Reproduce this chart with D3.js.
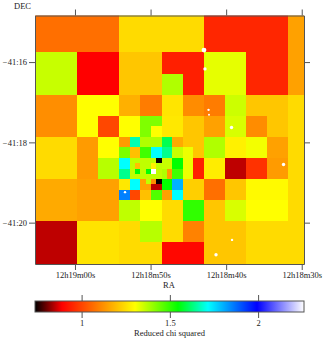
<!DOCTYPE html>
<html>
<head>
<meta charset="utf-8">
<script src="https://cdn.jsdelivr.net/npm/d3@7"></script>
<style>
body { margin: 0; background: #fff; }
text { font-family: "Liberation Serif", serif; font-size: 8.5px; fill: #222; }
.tick line, .domain { stroke: #555; }
</style>
</head>
<body>
<svg width="324" height="340"></svg>
<script>
// tiles of the adaptive binning, position and size in units of the finest bin
var tileCol = [0,8,16,24,32,40,48,
    0,8,16,24,28,24,28,32,40,48,
    0,8,12,8,12,16,20,16,20,22,20,22,24,28,24,28,32,36,32,36,40,44,40,44,48,
    0,8,12,8,12,16,18,20,22,16,18,20,22,16,16,18,18,19,19,
    20,22,23,22,23,20,21,20,21,22,23,23,22,23,
    24,26,24,26,24,26,26,24,25,24,25,
    28,30,28,30,28,30,28,30,32,36,40,44,32,36,40,44,48,
    0,8,16,18,16,18,20,21,22,23,22,23,20,22,24,26,24,26,28,
    16,20,24,28,32,36,40,44,48,32,36,40,44,
    0,8,16,20,16,20,24,28,24,28,32,40,48];
var tileRow = [0,0,0,0,0,0,0,
    8,8,8,8,8,12,12,8,8,8,
    16,16,16,20,20,16,16,20,20,20,22,22,16,16,20,20,16,16,20,20,16,16,20,20,16,
    24,24,24,28,28,24,24,24,24,26,26,26,26,28,30,28,30,29,30,
    28,28,28,29,29,30,30,31,31,30,30,31,31,31,
    24,24,26,26,28,28,30,30,30,31,31,
    24,24,26,26,28,28,30,30,24,24,24,24,28,28,28,28,24,
    32,32,32,32,34,34,32,32,32,32,33,33,34,34,32,32,34,34,32,
    36,36,36,36,32,32,32,32,32,36,36,36,36,
    40,40,40,40,44,44,40,40,44,44,40,40,40];
var tileSize = [8,8,8,8,8,8,8,
    8,8,8,4,4,4,4,8,8,8,
    8,4,4,4,4,4,4,4,2,2,2,2,4,4,4,4,4,4,4,4,4,4,4,4,8,
    8,4,4,4,4,2,2,2,2,2,2,2,2,2,2,2,2,1,1,
    2,1,1,1,1,1,1,1,1,1,1,1,1,1,
    2,2,2,2,2,2,2,1,1,1,1,
    2,2,2,2,2,2,2,2,4,4,4,4,4,4,4,4,8,
    8,8,2,2,2,2,2,1,1,1,1,1,2,2,2,2,2,2,4,
    4,4,4,4,4,4,4,4,8,4,4,4,4,
    8,8,4,4,4,4,4,4,4,4,8,8,8];
var tileChi = [1.07,1.07,1.245,1.245,0.95,0.95,1.15,
    1.356,0.889,1.21,0.94,0.94,1.378,0.94,1.327,0.95,1.15,
    1.12,1.303,1.303,1.303,1.005,1.175,1.09,1.303,1.425,1.425,1.425,1.303,1.26,1.117,1.266,1.21,1.09,1.352,1.15,1.34,1.21,1.21,1.117,1.21,1.245,
    1.245,1.14,1.303,1.14,1.372,1.14,1.665,1.378,1.378,1.43,1.2,1.485,1.716,1.716,1.64,1.364,1.364,1.2,1.55,
    1.364,1.364,0.74,1.28,1.364,1.364,1.55,1.364,1.364,2.26,1.364,1.364,1.364,1.364,
    1.6,1.165,1.64,1.356,1.356,1.546,1.485,1.378,1.14,1.378,1.14,
    1.21,1.21,1.32,1.21,1.321,0.94,1.321,0.94,1.378,1.28,1.314,1.15,1.273,0.85,0.97,1.14,1.245,
    1.165,1.15,1.266,1.716,1.855,1.005,1.15,1.364,1.12,0.74,0.85,0.85,1.2,1.47,1.546,1.8,1.15,1.716,1.225,
    1.364,1.303,1.245,1.5,1.07,1.21,1.295,1.295,1.245,1.21,1.34,1.303,1.303,
    0.85,1.258,1.245,1.372,1.245,1.245,1.245,1.1,0.9,0.9,1.21,1.245,1.245];

// small white marks, seconds of RA after 12h18m and arcmin of DEC below -41 deg
var pointRA = [42.93,42.8,42.33,42.27,39.29,32.41,39.22,41.34,53.38];
var pointDec = [15.7,16.17,17.19,17.31,17.63,18.55,20.43,20.8,19.24];
var pointSize = [4.4,3,2,1.6,3,3,2,3,2];

var raTicks = [60,50,40,30];
var raLabels = ['12h19m00s','12h18m50s','12h18m40s','12h18m30s'];
var decTicks = [16,18,20];
var decLabels = ['\u221241:16','\u221241:18','\u221241:20'];
var chiTicks = [1,1.5,2];

var chiStops = [0.736,0.889,1.303,1.546,1.716,1.994,2.26];
var chiColors = ['#000000','#ff0000','#ffff00','#00ff00','#00ffff','#0000ff','#ffffff'];

var svg = d3.select('svg');

var tileX = d3.scaleLinear().domain([0,51]).range([35,304]);
var tileY = d3.scaleLinear().domain([1,48]).range([15.5,263.6]);
var ScaleX = d3.scaleLinear().domain([65.29,29.7]).range([35,304]);
var ScaleY = d3.scaleLinear().domain([14.84,21.03]).range([15.5,264]);
var chiColor = d3.scaleLinear().domain(chiStops).range(chiColors).clamp(true);
var chiX = d3.scaleLinear().domain([0.736,2.26]).range([35,304]);

svg.append('clipPath').attr('id','plot')
    .append('rect')
    .attr('x',35).attr('y',15.5)
    .attr('width',269).attr('height',248.5);

var map = svg.append('g').attr('clip-path','url(#plot)');

//the tiles
map.selectAll('.tile')
    .data(d3.range(tileChi.length))
    .enter()
    .append('rect')
    .attr('class','tile')
    .attr('shape-rendering','crispEdges')
    .attr('x', function(i){ return tileX(tileCol[i]); })
    .attr('y', function(i){ return tileY(tileRow[i]); })
    .attr('width', function(i){ return tileX(tileCol[i]+tileSize[i]) - tileX(tileCol[i]); })
    .attr('height', function(i){ return tileY(tileRow[i]+tileSize[i]) - tileY(tileRow[i]); })
    .attr('fill', function(i){ return chiColor(tileChi[i]); });

//white marks
map.selectAll('.mark')
    .data(d3.range(pointRA.length))
    .enter()
    .append('circle')
    .attr('class','mark')
    .attr('cx', function(i){ return ScaleX(pointRA[i]); })
    .attr('cy', function(i){ return ScaleY(pointDec[i]); })
    .attr('r', function(i){ return pointSize[i]/2 + 0.2; })
    .attr('fill','#fff');

//axes
function raFormat(d){ return raLabels[raTicks.indexOf(d)]; }
function decFormat(d){ return decLabels[decTicks.indexOf(d)]; }

svg.append('g')
    .attr('transform','translate(0,264)')
    .call(d3.axisBottom(ScaleX).tickValues(raTicks).tickFormat(raFormat).tickSizeOuter(0).tickPadding(1.5));
svg.append('g')
    .attr('transform','translate(0,15.5)')
    .call(d3.axisTop(ScaleX).tickValues(raTicks).tickFormat('').tickSizeOuter(0));
svg.append('g')
    .attr('transform','translate(35,0)')
    .call(d3.axisLeft(ScaleY).tickValues(decTicks).tickFormat(decFormat).tickSizeOuter(0).tickPadding(2));
svg.append('g')
    .attr('transform','translate(304,0)')
    .call(d3.axisRight(ScaleY).tickValues(decTicks).tickFormat('').tickSizeOuter(0));

svg.selectAll('.tick text').style('font-family','"Liberation Serif", serif').style('font-size','8.5px');

svg.append('text').attr('x',14).attr('y',9).text('DEC');
svg.append('text').attr('x',169).attr('y',287.5).attr('text-anchor','middle').text('RA');

//colour bar
var grad = svg.append('linearGradient').attr('id','chiGrad');
grad.selectAll('stop')
    .data(chiStops)
    .enter()
    .append('stop')
    .attr('offset', function(d){ return (chiX(d)-35)/269; })
    .attr('stop-color', function(d){ return chiColor(d); });

svg.append('rect')
    .attr('x',35).attr('y',301)
    .attr('width',269).attr('height',11)
    .attr('fill','url(#chiGrad)')
    .attr('stroke','#555');

svg.append('g')
    .attr('transform','translate(0,301)')
    .call(d3.axisTop(chiX).tickValues(chiTicks).tickFormat('').tickSizeOuter(0))
    .select('.domain').remove();
var chiAxis = svg.append('g')
    .attr('transform','translate(0,312)')
    .call(d3.axisBottom(chiX).tickValues(chiTicks).tickSizeOuter(0).tickPadding(2).tickFormat(d3.format('')));
chiAxis.select('.domain').remove();
chiAxis.selectAll('text').style('font-family','"Liberation Serif", serif').style('font-size','8.5px');

svg.append('text').attr('x',169.5).attr('y',335.5).attr('text-anchor','middle').text('Reduced chi  squared');
</script>
</body>
</html>
